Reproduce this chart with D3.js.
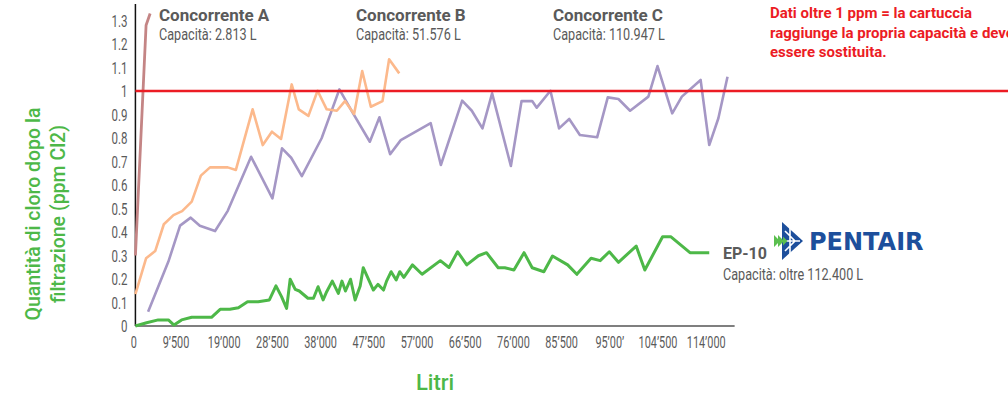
<!DOCTYPE html>
<html>
<head>
<meta charset="utf-8">
<script src="https://cdn.jsdelivr.net/npm/d3@7"></script>
<style>
  body { margin: 0; background: #fff; }
  svg { display: block; }
  .tick text { font-family: Roboto, sans-serif; fill: #5a5a5a; }
</style>
</head>
<body>
<script>
//chart data (litres, ppm Cl2)
var concAL = [1600, 3700, 4500];
var concAV = [0.30, 1.28, 1.33];

var concBL = [1600, 3700, 5500, 7200, 9100, 10800, 12700, 14500, 16300, 19800, 21400, 24700, 26700, 28500,
    30300, 32400, 33800, 35700, 37500, 39300, 41300, 42900, 44700, 46300, 48000, 50300, 51600, 53600];
var concBV = [0.136, 0.288, 0.319, 0.433, 0.472, 0.489, 0.529, 0.64, 0.675, 0.675, 0.664, 0.922, 0.77, 0.827,
    0.796, 1.028, 0.922, 0.894, 1.001, 0.922, 0.916, 0.957, 0.902, 1.085, 0.933, 0.957, 1.135, 1.075];

var concCL = [4100, 8100, 10400, 12500, 14300, 17300, 19800, 24400, 28600, 30500, 32300, 34400, 38300, 41800,
    44500, 47800, 49700, 51800, 53900, 59800, 61800, 66000, 67900, 70000, 71900, 75600, 77700, 79800, 80700,
    83400, 85100, 87100, 89200, 92600, 94700, 96800, 99100, 102700, 104500, 107400, 109300, 113000, 114700,
    116500, 118300];
var concCV = [0.061, 0.274, 0.427, 0.461, 0.427, 0.404, 0.49, 0.72, 0.543, 0.756, 0.716, 0.638, 0.799, 1.007,
    0.905, 0.784, 0.888, 0.731, 0.791, 0.863, 0.685, 0.959, 0.916, 0.841, 0.99, 0.681, 0.957, 0.957, 0.929,
    1.001, 0.841, 0.881, 0.813, 0.803, 0.973, 0.966, 0.916, 0.976, 1.106, 0.905, 0.976, 1.047, 0.77,
    0.884, 1.061];

var ep10L = [1600, 3800, 6100, 8100, 9200, 10700, 12700, 16600, 18300, 20200, 21900, 23700, 25800, 28000,
    29300, 30400, 31400, 32100, 33100, 33900, 35600, 36700, 37600, 38600, 39300, 40400, 41600, 42300, 43000,
    44000, 44900, 45900, 46500, 48500, 49400, 50500, 51100, 52000, 53000, 53700, 54500, 56200, 58100, 61700,
    63400, 65100, 66900, 69200, 70800, 73100, 74400, 76200, 78200, 79800, 82100, 83800, 86800, 88600, 91400,
    93200, 95000, 96800, 100300, 102000, 105500, 107100, 110900, 114700];
var ep10V = [0.0, 0.014, 0.026, 0.026, 0.004, 0.026, 0.037, 0.037, 0.071, 0.071, 0.078, 0.103, 0.103, 0.111,
    0.171, 0.125, 0.075, 0.199, 0.156, 0.149, 0.118, 0.118, 0.167, 0.111, 0.146, 0.191, 0.139, 0.191, 0.149,
    0.199, 0.111, 0.170, 0.248, 0.153, 0.177, 0.153, 0.191, 0.231, 0.196, 0.231, 0.207, 0.26, 0.22, 0.278,
    0.249, 0.316, 0.26, 0.299, 0.312, 0.248, 0.248, 0.238, 0.312, 0.248, 0.231, 0.298, 0.26, 0.22, 0.288,
    0.278, 0.316, 0.271, 0.34, 0.238, 0.38, 0.38, 0.312, 0.312];

var xTicks = [0, 9500, 19000, 28500, 38000, 47500, 57000, 66500, 76000, 85500, 95000, 104500, 114000];
var xTickLabels = ["0", "9\u2019500", "19\u2019000", "28\u2019500", "38\u2019000", "47\u2019500", "57\u2019000",
    "66\u2019500", "76\u2019000", "85\u2019500", "95\u201900\u2019", "104\u2019500", "114\u2019000"];
var yTicks = [0, 0.1, 0.2, 0.3, 0.4, 0.5, 0.6, 0.7, 0.8, 0.9, 1, 1.1, 1.2, 1.3];
var limit = 1; //ppm threshold

var w = 1008;
var h = 401;
var font = 'Roboto, "Liberation Sans", sans-serif';
var grey = "#5a5a5a";
var green = "#4db848";
var red = "#ec1c24";
var sx = 0.72; //squeeze for the narrow labels

//SCALES
var x = d3.scaleLinear()
    .domain([0, 119700])
    .range([127.3, 127.3 + 119700 * 0.0050737]);

var y = d3.scaleLinear()
    .domain([0, 1])
    .range([326, 91]);

var svg = d3.select("body")
    .append("svg")
    .attr("width", w)
    .attr("height", h);

//narrow text helper
function narrowText(str, px, py, size, color, squeeze) {
    return svg.append("text").text(str)
        .attr("transform", "translate(" + px + "," + py + ") scale(" + squeeze + ",1)")
        .attr("font-family", font).attr("font-size", size).attr("fill", color);
}

//AXES
var yAxis = svg.append("g")
    .attr("transform", "translate(" + x(1600) + ",0)")
    .call(d3.axisLeft(y).tickValues(yTicks).tickSize(0)
        .tickFormat(function(d) { return String(+d.toFixed(1)); }));
yAxis.select(".domain").remove();
yAxis.selectAll("text")
    .attr("font-size", 16)
    .attr("x", -8 / sx)
    .attr("dy", "0.36em")
    .attr("transform", "scale(" + sx + ",1)");

var xAxis = svg.append("g")
    .attr("transform", "translate(0," + y(0) + ")")
    .call(d3.axisBottom(x).tickValues(xTicks).tickSize(0).tickPadding(11)
        .tickFormat(function(d, i) { return xTickLabels[i]; }));
xAxis.select(".domain").remove();
xAxis.selectAll("text")
    .attr("font-size", 16)
    .attr("transform", "scale(0.68,1)")
    .attr("dx", function(d, i) { return i === 0 ? 6 / 0.68 : 0; });

svg.append("line")
    .attr("x1", x(1600)).attr("x2", x(119700))
    .attr("y1", y(0)).attr("y2", y(0))
    .attr("stroke", "#555").attr("stroke-width", 1.5);

svg.append("line")
    .attr("x1", x(1600)).attr("x2", x(1600))
    .attr("y1", y(1.37)).attr("y2", y(0))
    .attr("stroke", "#111").attr("stroke-width", 1.5);

//LINES
var line = d3.line()
    .x(function(d) { return x(d[0]); })
    .y(function(d) { return y(d[1]); });

function drawSeries(xs, ys, color, width) {
    svg.append("path")
        .datum(d3.zip(xs, ys))
        .attr("d", line)
        .attr("fill", "none")
        .attr("stroke", color)
        .attr("stroke-width", width)
        .attr("stroke-linejoin", "round");
}

drawSeries(concCL, concCV, "#a597c5", 2.6);
drawSeries(concBL, concBV, "#fcb98c", 2.6);
drawSeries(concAL, concAV, "#c48585", 2.8);
drawSeries(ep10L, ep10V, green, 3);

//threshold line
svg.append("line")
    .attr("x1", x(1600)).attr("x2", w)
    .attr("y1", y(limit)).attr("y2", y(limit))
    .attr("stroke", red).attr("stroke-width", 2.5);

//LABELS
var series = [
    { name: "Concorrente A", cap: "Capacit\u00e0: 2.813 L", lx: 159 },
    { name: "Concorrente B", cap: "Capacit\u00e0: 51.576 L", lx: 356 },
    { name: "Concorrente C", cap: "Capacit\u00e0: 110.947 L", lx: 553 }
];

series.forEach(function(s) {
    svg.append("text").text(s.name)
        .attr("x", s.lx).attr("y", 21)
        .attr("font-family", font).attr("font-weight", "bold")
        .attr("font-size", 17).attr("fill", grey);
    narrowText(s.cap, s.lx, 39.5, 16, grey, 0.79);
});

svg.append("text").text("EP-10")
    .attr("x", 723).attr("y", 259)
    .attr("font-family", font).attr("font-weight", "bold")
    .attr("font-size", 16).attr("fill", grey);
narrowText("Capacit\u00e0: oltre 112.400 L", 723, 280, 16, grey, 0.79);

//note
var note = ["Dati oltre 1 ppm = la cartuccia", "raggiunge la propria capacit\u00e0 e deve", "essere sostituita."];
svg.append("g").selectAll("text")
    .data(note)
    .enter()
    .append("text")
    .text(function(d) { return d; })
    .attr("x", 770)
    .attr("y", function(d, i) { return 18 + i * 19.5; })
    .attr("font-family", font).attr("font-weight", "bold")
    .attr("font-size", 15).attr("fill", red);

//axis titles
var yTitle = svg.append("text")
    .attr("transform", "translate(33,214) rotate(-90)")
    .attr("text-anchor", "middle")
    .attr("font-family", font).attr("font-weight", 500)
    .attr("font-size", 19.5).attr("fill", green);
yTitle.append("tspan").attr("x", 0).attr("dy", "0.35em").text("Quantit\u00e0 di cloro dopo la");
yTitle.append("tspan").attr("x", 0).attr("dy", 25).text("filtrazione (ppm Cl2)");

svg.append("text").text("Litri")
    .attr("x", 435).attr("y", 390)
    .attr("text-anchor", "middle")
    .attr("font-family", font).attr("font-weight", 500)
    .attr("font-size", 22).attr("fill", green);

//PENTAIR logo
var logo = svg.append("g").attr("transform", "translate(774,222)");
logo.append("path")
    .attr("d", "M8,0 L29,19 L8,38 Z")
    .attr("fill", "#1d4f9c");
logo.append("path")
    .attr("d", "M11,9 L21,19 L11,29 M16,4 L16,34 M8,19 L26,19")
    .attr("fill", "none")
    .attr("stroke", "#fff")
    .attr("stroke-width", 1.6);
logo.append("path")
    .attr("d", "M0,13 L6,19 L0,25 Z M4,13 L10,19 L4,25 Z")
    .attr("fill", "#5bbf4f");
logo.append("path")
    .attr("d", "M9,14.5 L13.5,19 L9,23.5 Z")
    .attr("fill", "#5bbf4f");
svg.append("text").text("PENTAIR")
    .attr("x", 809).attr("y", 250)
    .attr("font-family", '"DejaVu Sans", Verdana, sans-serif').attr("font-weight", "bold")
    .attr("font-size", 24).attr("fill", "#1d4f9c");
</script>
</body>
</html>
